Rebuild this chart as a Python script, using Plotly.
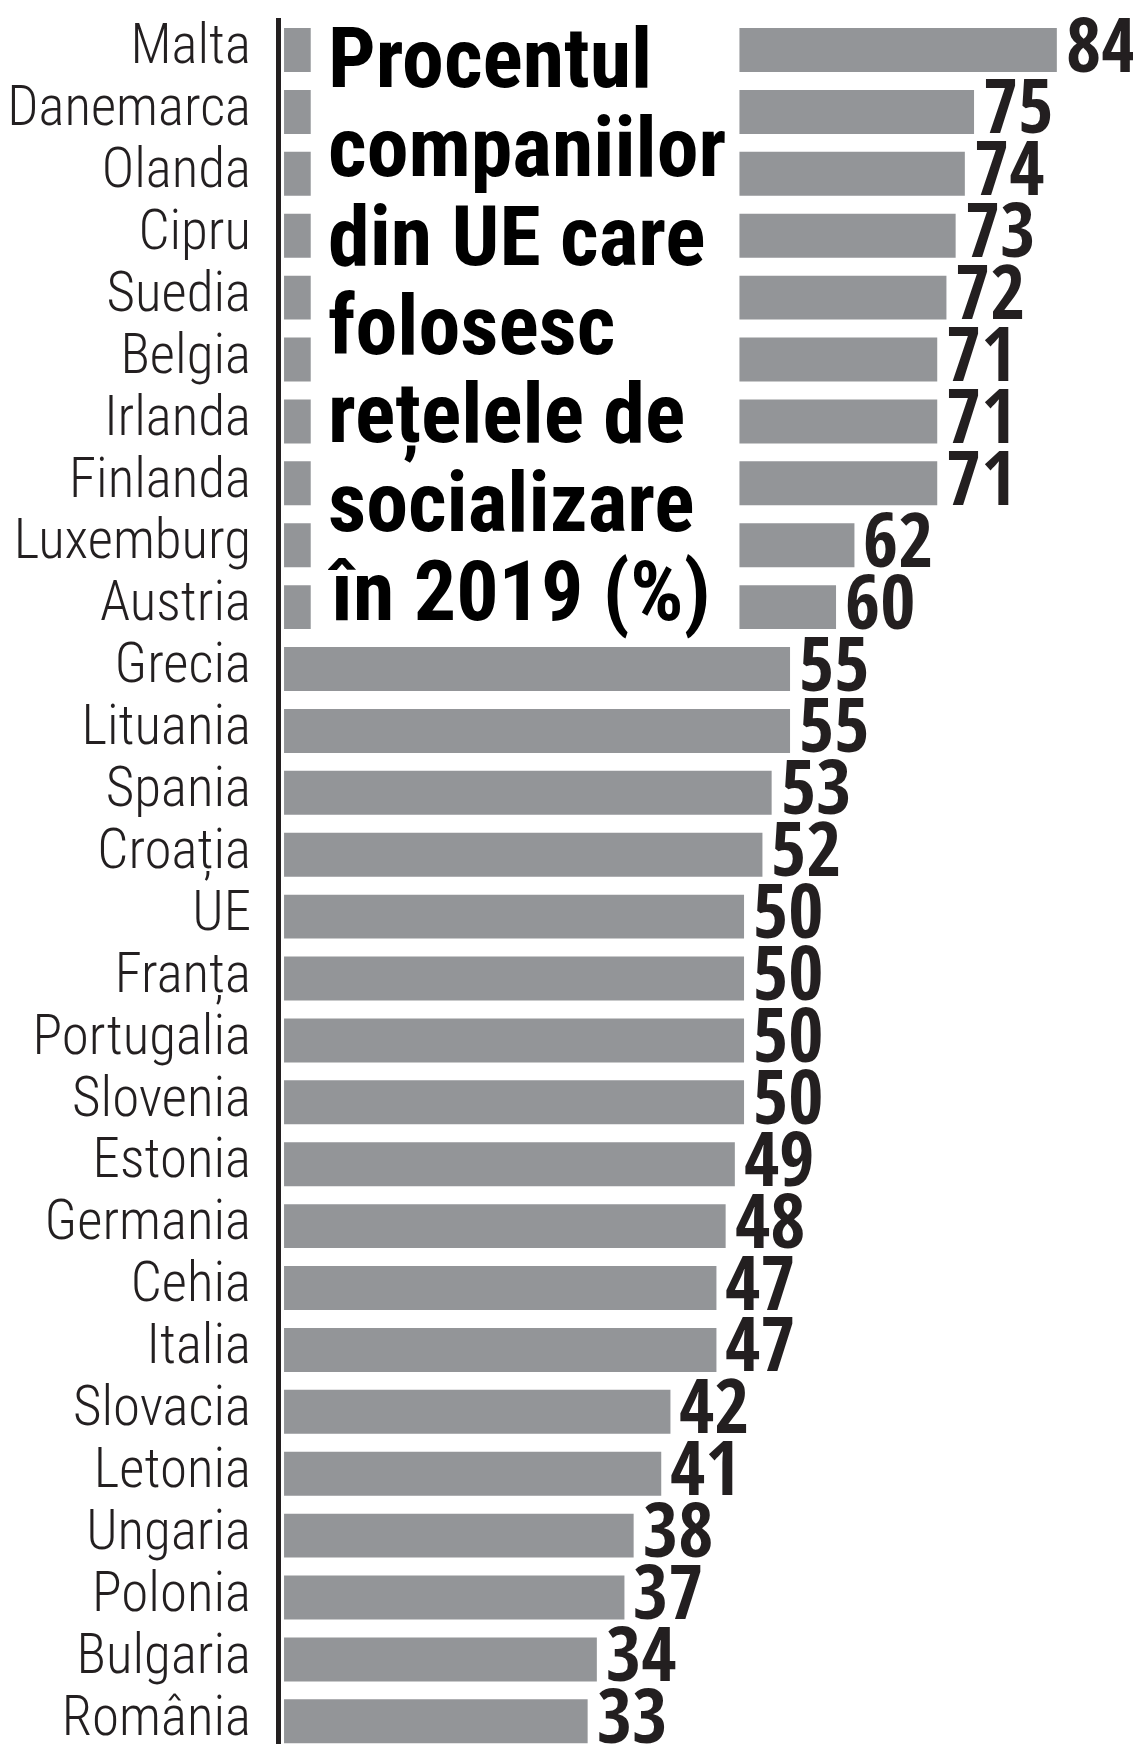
import plotly.graph_objects as go

# ----------------------
# Data
# ----------------------

countries = [
    "Malta", "Danemarca", "Olanda", "Cipru", "Suedia", "Belgia", "Irlanda",
    "Finlanda", "Luxemburg", "Austria", "Grecia", "Lituania", "Spania",
    "Croația", "UE", "Franța", "Portugalia", "Slovenia", "Estonia",
    "Germania", "Cehia", "Italia", "Slovacia", "Letonia", "Ungaria",
    "Polonia", "Bulgaria", "România",
]
values = [
    84, 75, 74, 73, 72, 71, 71, 71, 62, 60, 55, 55, 53, 52, 50, 50, 50, 50,
    49, 48, 47, 47, 42, 41, 38, 37, 34, 33,
]
title_lines = [
    "Procentul", "companiilor", "din UE care", "folosesc",
    "rețelele de", "socializare", "în 2019 (%)",
]

# ----------------------
# Style constants
# ----------------------

W, H = 1141, 1744
OFF = 8                      # default <body> margin of the html page
M_L, M_T = 281 - OFF, 18 - OFF
PLOT_W, PLOT_H = W - M_L, H - M_T
PX_PER_UNIT = 9.2
ROW_PX = 61.9
X0 = -0.33
Y_TOP = -0.517
BAR_COLOR = "#939598"
INK = "#231f20"
LABEL_FONT = "Roboto Condensed, DejaVu Sans Condensed, sans-serif"
TITLE_FONT = "Roboto Condensed, DejaVu Sans Condensed, sans-serif"
NUM_FONT = "Open Sans Condensed, Roboto Condensed, sans-serif"


def px_(page_x):
    """page pixel column -> paper x of the plot area"""
    return (page_x - OFF - M_L) / PLOT_W


def py(page_y):
    """page pixel row -> paper y of the plot area"""
    return 1 - (page_y - OFF - M_T) / PLOT_H


fig = go.Figure()

fig.add_trace(go.Bar(
    x=values,
    y=countries,
    orientation="h",
    marker=dict(color=BAR_COLOR, line=dict(width=0)),
    hoverinfo="skip",
))

# white panel holding the title, over the top ten bars
fig.add_shape(
    type="rect", xref="x", yref="y",
    x0=2.9, x1=49.5, y0=9.5, y1=-0.6,
    fillcolor="white", line=dict(width=0), layer="above",
)

# value labels at the end of each bar
for c, v in zip(countries, values):
    fig.add_annotation(
        x=v, y=c, xref="x", yref="y",
        text=f"<b>{v}</b>", showarrow=False,
        xanchor="left", yanchor="middle",
        xshift=7, yshift=8,
        font=dict(family=NUM_FONT, size=76, color=INK),
    )

# title block, one annotation per line for tight leading
for i, line in enumerate(title_lines):
    fig.add_annotation(
        x=px_(326), y=py(59 + i * 88.7),
        xref="paper", yref="paper",
        text=f"<b>{line}</b>", showarrow=False,
        xanchor="left", yanchor="middle",
        font=dict(family=TITLE_FONT, size=84, color="#000000"),
    )

fig.update_layout(
    width=W, height=H,
    margin=dict(l=M_L, r=0, t=M_T, b=0, autoexpand=False),
    paper_bgcolor="white", plot_bgcolor="white",
    bargap=0.29,
    showlegend=False,
)
fig.update_xaxes(
    range=[X0, X0 + PLOT_W / PX_PER_UNIT],
    visible=False, showgrid=False, zeroline=False,
)
fig.update_yaxes(
    range=[Y_TOP + PLOT_H / ROW_PX, Y_TOP], automargin=False,
    tickmode="array", tickvals=countries, ticktext=countries,
    showline=True, linecolor=INK, linewidth=5,
    showgrid=False, zeroline=False, ticks="", ticklen=0,
    ticklabelstandoff=14, ticklabelshift=6,
    tickfont=dict(family=LABEL_FONT, size=55, color=INK, weight=300),
)

fig.write_html("out.html")
